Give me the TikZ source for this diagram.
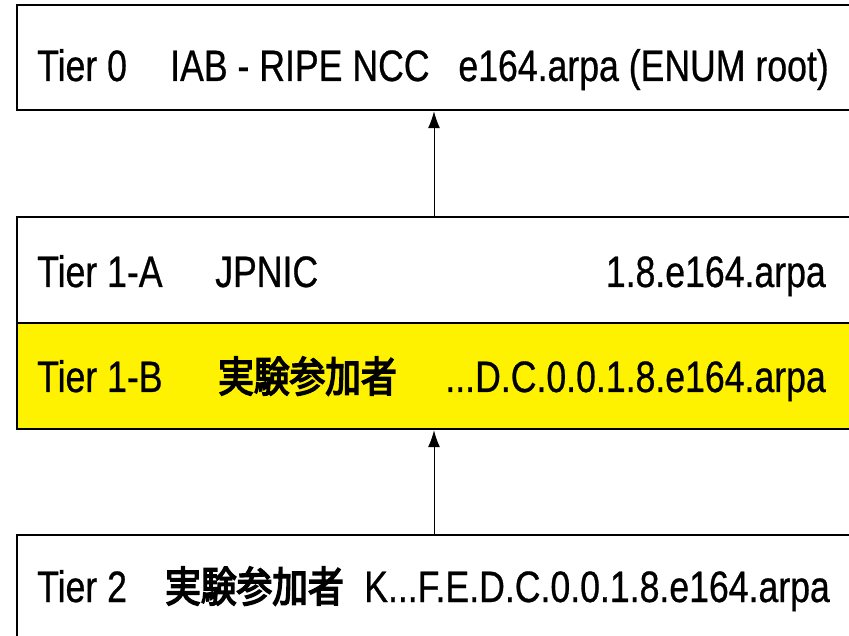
\documentclass[tikz,border=0pt]{standalone}
\usepackage{fontspec}
\setmainfont[FakeStretch=0.81,FakeBold=0.6]{Liberation Sans}
\newfontfamily\jpfont[FakeStretch=0.85,FakeBold=3.5]{Noto Sans CJK JP}
\usetikzlibrary{arrows.meta}
\newcommand{\sanka}{{\jpfont\fontsize{42}{50}\selectfont 実験参加者}}

\begin{document}
\begin{tikzpicture}[x=1pt,y=1pt]
                        \tikzstyle{tierbox}=[draw, line width=2.5pt, minimum width=834pt, inner sep=0pt]
                        \tikzstyle{lbl}=[inner sep=0pt, font=\fontsize{44}{50}\selectfont]
                        \tikzstyle{link}=[line width=1pt, -{Latex[length=17pt,width=12pt]}]
                        \useasboundingbox (0,0) rectangle (849,635);
                        \node[tierbox, minimum height=105pt] (tier0) at (434,577.5) {};
                        \node[tierbox, minimum height=106pt] (tier1a) at (434,365) {};
                        \node[tierbox, minimum height=106pt, fill=yellow] (tier1b) at (434,259) {};
                        \node[tierbox, minimum height=106pt] (tier2) at (434,47) {};
                        \node[lbl, anchor=base west] (t0name) at (37,554) {Tier 0};
                        \node[lbl, anchor=base west] (t0org) at (170,554) {IAB - RIPE NCC};
                        \node[lbl, anchor=base east] (t0zone) at (829,554) {e164.arpa (ENUM root)};
                        \node[lbl, anchor=base west] (t1aname) at (37,348) {Tier 1-A};
                        \node[lbl, anchor=base west] (t1aorg) at (215,348) {JPNIC};
                        \node[lbl, anchor=base east] (t1azone) at (826,348) {1.8.e164.arpa};
                        \node[lbl, anchor=base west] (t1bname) at (37,243) {Tier 1-B};
                        \node[lbl, anchor=base west] (t1borg) at (218,243) {\sanka};
                        \node[lbl, anchor=base east] (t1bzone) at (826,243) {...D.C.0.0.1.8.e164.arpa};
                        \node[lbl, anchor=base west] (t2name) at (37,33) {Tier 2};
                        \node[lbl, anchor=base west] (t2org) at (165,33) {\sanka};
                        \node[lbl, anchor=base east] (t2zone) at (830,33) {K...F.E.D.C.0.0.1.8.e164.arpa};
                        \draw[link] (tier1a.north) -- (tier0.south);
                        \draw[link] (tier2.north) -- (tier1b.south);
\end{tikzpicture}
\end{document}
